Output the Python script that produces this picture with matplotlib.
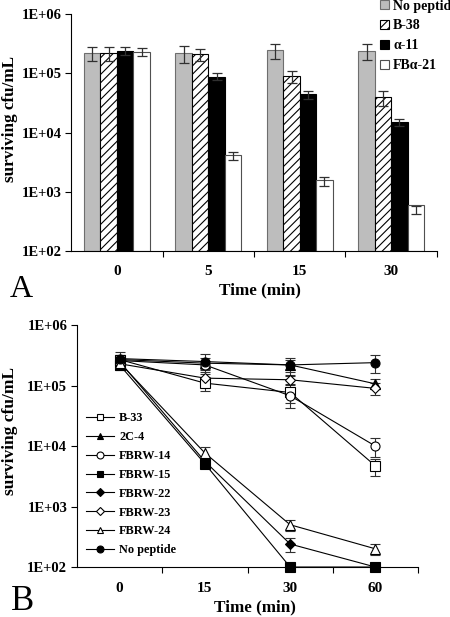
import matplotlib.pyplot as plt
import numpy as np
from matplotlib.patches import Patch
from matplotlib.lines import Line2D

plt.rcParams['font.family'] = ['Liberation Serif', 'DejaVu Serif']
plt.rcParams['font.weight'] = 'bold'
plt.rcParams['hatch.linewidth'] = 0.8

# ---- panel A data ----
times_a = ['0', '5', '15', '30']
bar_names = ['No peptide', 'B-38', 'α-11', 'FBα-21']
no_pep_a = [2.2e5, 2.2e5, 2.45e5, 2.4e5]
no_pep_a_err = [6e4, 7e4, 7e4, 7e4]
b38 = [2.2e5, 2.1e5, 9.0e4, 3.95e4]
b38_err = [6e4, 4.5e4, 2.0e4, 1.1e4]
a11 = [2.4e5, 8.8e4, 4.4e4, 1.5e4]
a11_err = [3.5e4, 1.2e4, 7e3, 2e3]
fba21 = [2.3e5, 4.1e3, 1.5e3, 5.0e2]
fba21_err = [3.5e4, 6e2, 2.5e2, 70]

# ---- panel B data ----
times_b = ['0', '15', '30', '60']
b33 = [2.7e5, 1.1e5, 7.7e4, 4.7e3]
b33_err = [5e4, 3e4, 2.5e4, 1.5e3]
c2c4 = [2.7e5, 2.35e5, 2.2e5, 1.07e5]
c2c4_err = [5e4, 5e4, 5e4, 2e4]
fbrw14 = [2.6e5, 2.2e5, 6.8e4, 1.0e4]
fbrw14_err = [5e4, 4e4, 2.5e4, 3.5e3]
fbrw15 = [2.2e5, 5.1e3, 1.0e2, 1.0e2]
fbrw15_err = [4e4, 6e2, 0, 15]
fbrw22 = [2.5e5, 5.6e3, 2.4e2, 1.0e2]
fbrw22_err = [5e4, 7e2, 6e1, 15]
fbrw23 = [2.3e5, 1.33e5, 1.25e5, 9.0e4]
fbrw23_err = [4e4, 2e4, 2e4, 2e4]
fbrw24 = [2.4e5, 7.7e3, 5.0e2, 2.0e2]
fbrw24_err = [5e4, 1.8e3, 1.1e2, 4e1]
nopep_b = [2.8e5, 2.5e5, 2.2e5, 2.4e5]
nopep_b_err = [8e4, 8e4, 7e4, 8e4]

fig = plt.figure(figsize=(4.5, 6.17), dpi=100)
ytick_vals = [1e2, 1e3, 1e4, 1e5, 1e6]
ytick_labs = ['1E+02', '1E+03', '1E+04', '1E+05', '1E+06']


def style_axes(a):
    a.set_yscale('log')
    a.set_ylim(1e2, 1e6)
    a.set_xlim(-0.5, 3.5)
    a.set_yticks(ytick_vals)
    a.set_yticklabels(ytick_labs)
    a.yaxis.set_minor_locator(plt.NullLocator())
    a.set_xticks([0.5, 1.5, 2.5, 3.5])
    a.set_xticklabels([])
    a.tick_params(axis='x', length=4, width=0.8)
    a.tick_params(axis='y', length=4, width=0.8, labelsize=10.5, pad=3)
    for s in ['top', 'right']:
        a.spines[s].set_visible(False)
    for s in ['left', 'bottom']:
        a.spines[s].set_linewidth(0.8)


# ================= Panel A =================
ax = fig.add_axes([0.158, 0.593, 0.813, 0.384])
x = np.arange(len(times_a))
w = 0.18
offs = [-1.5 * w, -0.5 * w, 0.5 * w, 1.5 * w]
series = [(no_pep_a, no_pep_a_err), (b38, b38_err), (a11, a11_err), (fba21, fba21_err)]
styles = [dict(color='#bdbdbd', edgecolor='#6e6e6e'),
          dict(color='white', edgecolor='black', hatch='////'),
          dict(color='black', edgecolor='black'),
          dict(color='white', edgecolor='#505050')]
for (vals, err), off, st in zip(series, offs, styles):
    ax.bar(x + off, vals, w, bottom=1e2, linewidth=0.8, **st)
    ax.errorbar(x + off, vals, yerr=err, fmt='none', ecolor='#303030',
                elinewidth=0.9, capsize=3.5, capthick=0.9)

style_axes(ax)
for i, t in enumerate(times_a):
    ax.text(i, -0.06, t, transform=ax.get_xaxis_transform(), ha='center',
            va='top', fontsize=11, fontweight='bold')
fig.text(0.022, 0.807, 'surviving cfu/mL', rotation=90, ha='center', va='center',
         fontsize=12.3, fontweight='bold')
fig.text(0.578, 0.530, 'Time (min)', ha='center', va='center',
         fontsize=12.3, fontweight='bold')
fig.text(0.022, 0.518, 'A', fontsize=23, fontweight='normal', va='baseline')

handles = [Patch(facecolor=st['color'], edgecolor=st['edgecolor'],
                 hatch=st.get('hatch'), linewidth=0.8) for st in styles]
fig.legend(handles, bar_names, loc='upper left', bbox_to_anchor=(0.83, 1.012),
           frameon=False, handlelength=0.62, handleheight=0.62,
           handletextpad=0.3, labelspacing=0.5, borderpad=0.0,
           prop=dict(weight='bold', size=10))

# ================= Panel B =================
bx = fig.add_axes([0.171, 0.081, 0.758, 0.392])
xb = np.arange(len(times_b))
lines = [
    ('B-33', b33, b33_err, 's', 'white'),
    ('2C-4', c2c4, c2c4_err, '^', 'black'),
    ('FBRW-14', fbrw14, fbrw14_err, 'o', 'white'),
    ('FBRW-15', fbrw15, fbrw15_err, 's', 'black'),
    ('FBRW-22', fbrw22, fbrw22_err, 'D', 'black'),
    ('FBRW-23', fbrw23, fbrw23_err, 'D', 'white'),
    ('FBRW-24', fbrw24, fbrw24_err, '^', 'white'),
    ('No peptide', nopep_b, nopep_b_err, 'o', 'black'),
]
leg_handles = []
for name, vals, err, mk, fc in lines:
    ms = 5.5 if mk == 'D' else 6.5
    bx.errorbar(xb, vals, yerr=err, color='black', linewidth=0.8,
                marker=mk, markersize=ms, markerfacecolor=fc,
                markeredgecolor='black', markeredgewidth=0.8,
                ecolor='#303030', elinewidth=0.8, capsize=3.5, capthick=0.8,
                clip_on=False, zorder=3)
    leg_handles.append(Line2D([0], [0], color='black', linewidth=0.8, marker=mk,
                              markersize=ms - 1.5, markerfacecolor=fc,
                              markeredgecolor='black', markeredgewidth=0.8))

style_axes(bx)
for i, t in enumerate(times_b):
    bx.text(i, -0.06, t, transform=bx.get_xaxis_transform(), ha='center',
            va='top', fontsize=11, fontweight='bold')
fig.text(0.022, 0.301, 'surviving cfu/mL', rotation=90, ha='center', va='center',
         fontsize=12.5, fontweight='bold')
fig.text(0.567, 0.015, 'Time (min)', ha='center', va='center',
         fontsize=12.3, fontweight='bold')
fig.text(0.024, 0.011, 'B', fontsize=25, fontweight='normal', va='baseline')

bx.legend(leg_handles, [l[0] for l in lines], loc='upper left',
          bbox_to_anchor=(0.009, 0.665), frameon=False, handlelength=2.3,
          handletextpad=0.4, labelspacing=0.56, borderpad=0.0,
          prop=dict(weight='bold', size=8.8))

fig.savefig('out.png', dpi=100)
